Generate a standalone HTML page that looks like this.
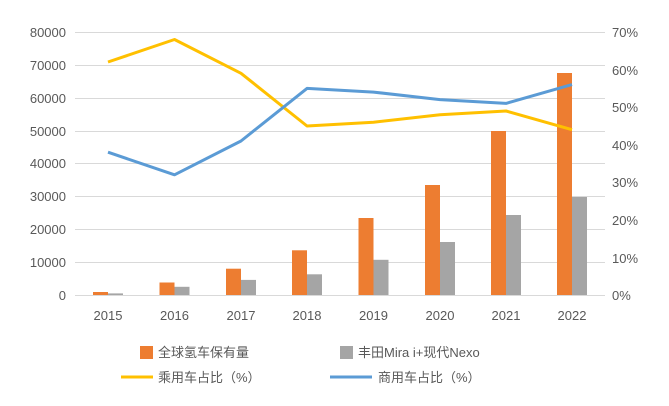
<!DOCTYPE html><html><head><meta charset="utf-8"><style>body{margin:0;background:#fff}svg{display:block}text{font-family:"Liberation Sans","Noto Sans CJK SC",sans-serif;fill:#595959;font-size:13px}</style></head><body>
<svg width="669" height="406" viewBox="0 0 669 406">
<g stroke="#d9d9d9" stroke-width="1">
<line x1="75" x2="605" y1="32.5" y2="32.5"/><line x1="75" x2="605" y1="65.5" y2="65.5"/><line x1="75" x2="605" y1="98.5" y2="98.5"/><line x1="75" x2="605" y1="131.5" y2="131.5"/><line x1="75" x2="605" y1="163.5" y2="163.5"/><line x1="75" x2="605" y1="196.5" y2="196.5"/><line x1="75" x2="605" y1="229.5" y2="229.5"/><line x1="75" x2="605" y1="262.5" y2="262.5"/><line x1="75" x2="605" y1="295.5" y2="295.5"/>
</g>
<g text-anchor="end">
<text x="66" y="37">80000</text><text x="66" y="70">70000</text><text x="66" y="103">60000</text><text x="66" y="136">50000</text><text x="66" y="168">40000</text><text x="66" y="201">30000</text><text x="66" y="234">20000</text><text x="66" y="267">10000</text><text x="66" y="300">0</text>
</g>
<g>
<text x="612" y="37">70%</text><text x="612" y="75">60%</text><text x="612" y="112">50%</text><text x="612" y="150">40%</text><text x="612" y="187">30%</text><text x="612" y="225">20%</text><text x="612" y="263">10%</text><text x="612" y="300">0%</text>
</g>
<g fill="#ed7d31">
<rect x="93" y="292" width="15" height="3"/><rect x="159.5" y="282.5" width="15" height="12.5"/><rect x="226" y="268.7" width="15" height="26.3"/><rect x="292" y="250.3" width="15" height="44.7"/><rect x="358.5" y="218" width="15" height="77"/><rect x="425" y="185" width="15" height="110"/><rect x="491" y="131" width="15" height="164"/><rect x="557" y="73" width="15" height="222"/>
</g>
<g fill="#a5a5a5">
<rect x="108" y="293.4" width="15" height="1.6"/><rect x="174.5" y="286.8" width="15" height="8.2"/><rect x="241" y="279.9" width="15" height="15.1"/><rect x="307" y="274.3" width="15" height="20.7"/><rect x="373.5" y="259.8" width="15" height="35.2"/><rect x="440" y="242" width="15" height="53"/><rect x="506" y="215" width="15" height="80"/><rect x="572" y="197" width="15" height="98"/>
</g>
<polyline fill="none" stroke="#ffc000" stroke-width="3" stroke-linejoin="round" points="108,62 174.5,39.5 241,73.3 307,126 373.5,122.2 440,114.7 506,111 572,129.7"/>
<polyline fill="none" stroke="#5b9bd5" stroke-width="3" stroke-linejoin="round" points="108,152.2 174.5,174.8 241,141 307,88.4 373.5,92.1 440,99.6 506,103.4 572,84.6"/>
<g text-anchor="middle">
<text x="108" y="320">2015</text><text x="174.5" y="320">2016</text><text x="241" y="320">2017</text><text x="307" y="320">2018</text><text x="373.5" y="320">2019</text><text x="440" y="320">2020</text><text x="506" y="320">2021</text><text x="572" y="320">2022</text>
</g>
<rect x="140" y="346" width="13" height="13" fill="#ed7d31"/><text x="158" y="357">全球氢车保有量</text>
<rect x="340" y="346" width="13" height="13" fill="#a5a5a5"/><text x="358" y="357">丰田Mira i+现代Nexo</text>
<line x1="121" x2="153" y1="377" y2="377" stroke="#ffc000" stroke-width="3"/><text x="158" y="382">乘用车占比（%）</text>
<line x1="330" x2="372" y1="377" y2="377" stroke="#5b9bd5" stroke-width="3"/><text x="378" y="382">商用车占比（%）</text>
</svg></body></html>
